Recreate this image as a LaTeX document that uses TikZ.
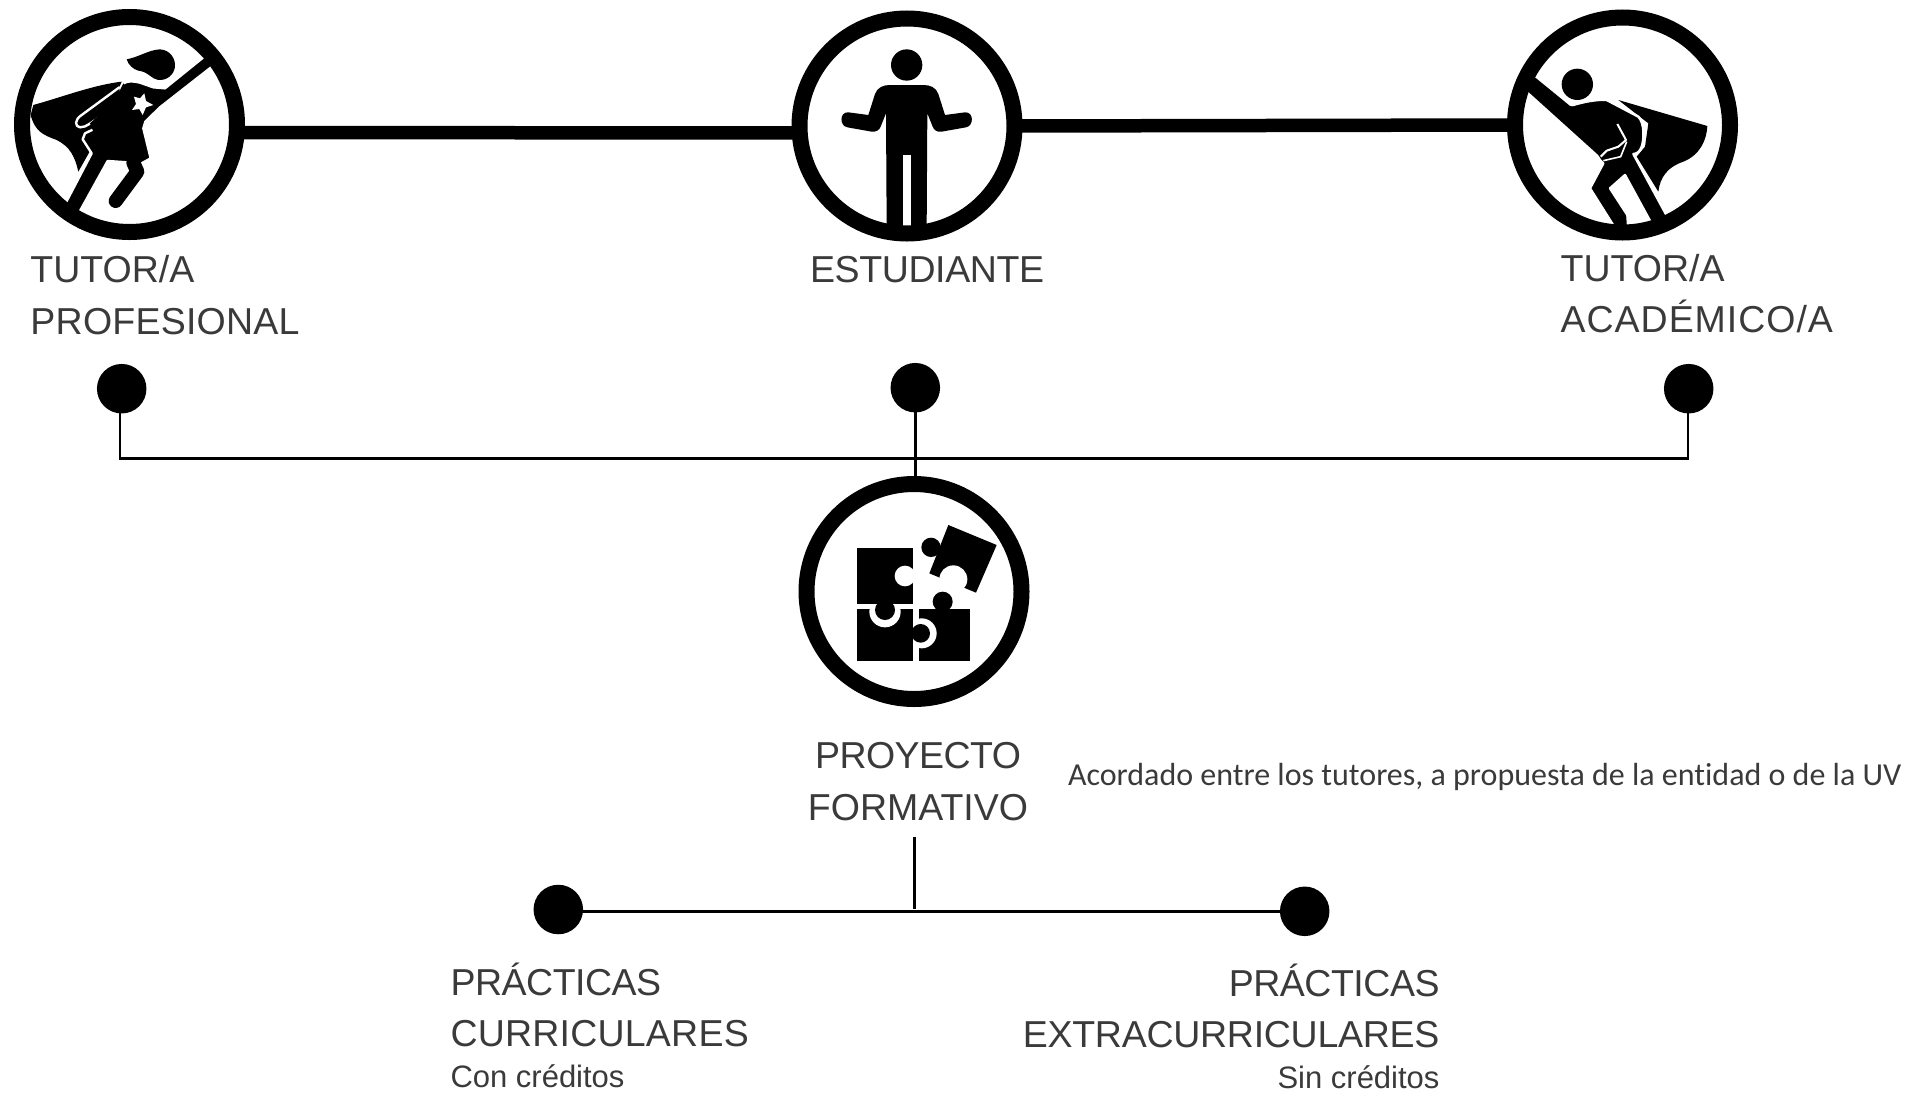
\documentclass[tikz,border=0pt]{standalone}
\usepackage{fontspec}
\setmainfont{Liberation Sans}
\newfontfamily\notefont[Ligatures=NoCommon]{Carlito}
\usetikzlibrary{calc}
\definecolor{labelgrey}{HTML}{3A3A3A}
\newcommand{\lsp}[2]{{\addfontfeature{LetterSpace=#1}#2}}
\tikzset{
  x=1pt,y=-1pt,
  ring/.style={circle,draw=black,line width=16pt,minimum size=215pt,inner sep=0pt,outer sep=0pt},
  bead/.style={circle,fill=black,minimum size=49.5pt,inner sep=0pt,outer sep=0pt},
  heavy/.style={draw=black,line width=13.5pt},
  thin link/.style={draw=black,line width=2.6pt},
  big label/.style={inner sep=0pt,outer sep=0pt,text=labelgrey,font=\fontsize{37.5}{51.5}\selectfont},
  small label/.style={inner sep=0pt,outer sep=0pt,text=labelgrey,font=\fontsize{31}{36}\selectfont},
  note label/.style={inner sep=0pt,outer sep=0pt,text=labelgrey,font=\notefont\fontsize{32}{38}\selectfont},
  icon/.style={x=0.33333pt,y=-0.33333pt},
}
\begin{document}
\begin{tikzpicture}
\useasboundingbox (0,0) rectangle (1908,1095);
% icon 1: hero woman
\begin{scope}[icon]
\fill (100,315) .. controls (190,290) and (280,255) .. (365,245) -- (300,400) -- (235,515)
  .. controls (225,470) and (210,440) .. (170,420) .. controls (130,405) and (105,395) .. (92,345) -- cycle;
\fill (380,178) .. controls (420,170) and (445,150) .. (480,148) .. controls (510,150) and (527,175) .. (525,200)
  .. controls (522,225) and (500,242) .. (475,240) .. controls (455,238) and (445,215) .. (415,212) .. controls (400,208) and (385,195) .. (380,178) -- cycle;
\filldraw[fill=black,draw=white,line width=2.4pt,line join=round]
  (370,250) .. controls (385,242) and (400,243) .. (420,248) -- (460,262) -- (495,265) -- (625,160) -- (655,185)
  -- (480,322) -- (436,365) -- (430,385) -- (452,475) -- (425,490) -- (323,483)
  -- (225,660) -- (185,632) -- (275,460) -- (248,418) -- (255,400) -- (340,360) -- (358,310) -- cycle;
\filldraw[fill=black,draw=white,line width=2.4pt,line cap=round,line join=round]
  (358,262) -- (245,345) .. controls (222,360) and (225,380) .. (240,382) .. controls (250,382) and (260,378) .. (268,372) -- (362,308);
\fill (345,300) -- (370,250) -- (420,300) -- (380,400) -- (290,420) -- (270,370) -- cycle;
\draw[line width=14pt,line cap=round,line join=round] (400,488) -- (412,515) -- (347,603);
\fill[white] (402,290) -- (420,295) -- (433,280) -- (438,303) -- (460,315) -- (438,322) -- (428,345) -- (418,327) -- (396,330) -- (408,312) -- cycle;
\end{scope}
% icon 2: student
\begin{scope}[shift={(780,0)},icon]
\fill (380,195) circle[radius=47];
\fill (330,255) -- (430,255) .. controls (450,255) and (468,262) .. (475,282) -- (495,345) -- (555,337)
  .. controls (582,335) and (582,378) .. (558,382) -- (485,395) .. controls (470,397) and (462,390) .. (458,380) -- (442,340)
  -- (440,680) -- (320,680) -- (318,340) -- (302,380) .. controls (298,390) and (290,396) .. (275,395) -- (202,382)
  .. controls (178,378) and (178,335) .. (205,337) -- (265,345) -- (285,282) .. controls (292,262) and (310,255) .. (330,255) -- cycle;
\fill[white] (368,465) rectangle (392,677);
\end{scope}
% icon 3: hero man
\begin{scope}[shift={(1490,0)},icon]
\fill (385,300) -- (652,378) .. controls (650,420) and (630,465) .. (580,485) .. controls (535,500) and (510,530) .. (505,575) -- (440,470) -- (465,440) -- (475,370) -- cycle;
\fill (262,253) circle[radius=47];
\filldraw[fill=black,draw=white,line width=2.4pt,line join=round]
  (240,318) .. controls (280,305) and (320,298) .. (350,300) -- (445,350) .. controls (465,370) and (462,420) .. (455,440) .. controls (450,455) and (440,462) .. (430,462)
  -- (540,665) -- (495,690) -- (405,525) -- (360,565) -- (412,645) -- (415,690) -- (385,700) -- (300,565) -- (340,490) -- (330,480) -- (320,465) -- cycle;
\fill (120,220) -- (240,318) -- (360,340) -- (340,470) -- (325,465) -- (100,262) -- cycle;
\draw[white,line width=2pt,line join=round] (382,372) -- (408,420) -- (385,440) -- (350,452) -- (332,470);
\draw[white,line width=1.6pt,line join=round] (340,482) -- (392,470) -- (410,425);
\end{scope}
% icon 4: puzzle
\begin{scope}[shift={(790,470)},icon]
\fill (387,418) rectangle (540,574);
\fill[white] (395,490) circle[radius=45];
\fill (202,418) rectangle (368,574);
\fill[white] (285,425) circle[radius=47];
\fill (202,235) rectangle (368,402);
\fill[white] (345,318) circle[radius=31];
\fill (285,420) circle[radius=30];
\fill (392,490) circle[radius=28];
\fill (475,165) -- (620,225) -- (558,368) -- (418,310) -- cycle;
\fill[white] (490,328) circle[radius=42];
\fill (423,232) circle[radius=29];
\fill (458,395) circle[radius=30];
\end{scope}
\node[ring] (c1) at (129.5,124.5) {};
\node[ring] (c2) at (907,126) {};
\node[ring] (c3) at (1622.5,125) {};
\node[ring] (c4) at (914,591.5) {};
\node[bead] (d1) at (121.7,388.7) {};
\node[bead] (d2) at (915.3,387.7) {};
\node[bead] (d3) at (1688.7,388.7) {};
\node[bead] (d4) at (558.3,909.5) {};
\node[bead] (d5) at (1304.7,911.3) {};
% heavy top connectors
\draw[heavy] ($(c1.east)+(0,8)$) -- ($(c2.west)+(0,7)$);
\draw[heavy] (c2.east) -- (c3.west);
% thin bus
\coordinate (busL) at (120,458.3);
\coordinate (busR) at (1688,458.3);
\draw[thin link,line join=miter] (d1.south -| busL) -- (busL) -- (busR) -- (d3.south -| busR);
\draw[draw=black,line width=3pt] (d2.south) -- ($(c4.north)+(1.3,0)$);
\coordinate (stemTop) at (914,836.7);
\coordinate (stemBot) at (914,909);
\draw[draw=black,line width=3pt] (stemTop) -- (stemBot);
\draw[thin link] (d4.center |- 0,911.3) -- (d5.center |- 0,911.3);
% labels (multi-line nodes are placed by the baseline of their last line)
\node[big label,anchor=base west,align=left] (t1) at (30.5,334.3) {TUTOR/A\\\lsp{.6}{PROFESIONAL}};
\node[big label,anchor=base west] (t2) at (810,282.3) {\lsp{-1}{ESTUDIANTE}};
\node[big label,anchor=base west,align=left] (t3) at (1560.7,332.7) {TUTOR/A\\\lsp{2.6}{ACADÉMICO/A}};
\node[big label,anchor=base,align=center] (t4) at (918,820) {\lsp{-1.5}{PROYECTO}\\FORMATIVO};
\node[note label,anchor=base west] (n4) at (1068,785) {Acordado entre los tutores, a propuesta de la entidad o de la UV};
\node[big label,anchor=base west,align=left] (t5) at (450.5,1046.5) {\lsp{-1.3}{PRÁCTICAS}\\\lsp{.6}{CURRICULARES}};
\node[small label,anchor=base west] (n5) at (450.5,1087.8) {Con créditos};
\node[big label,anchor=base east,align=right] (t6) at (1439.5,1047.5) {\lsp{-1.3}{PRÁCTICAS}\\\lsp{-.7}{EXTRACURRICULARES}};
\node[small label,anchor=base east] (n6) at (1439.5,1088.8) {Sin créditos};
\end{tikzpicture}
\end{document}
